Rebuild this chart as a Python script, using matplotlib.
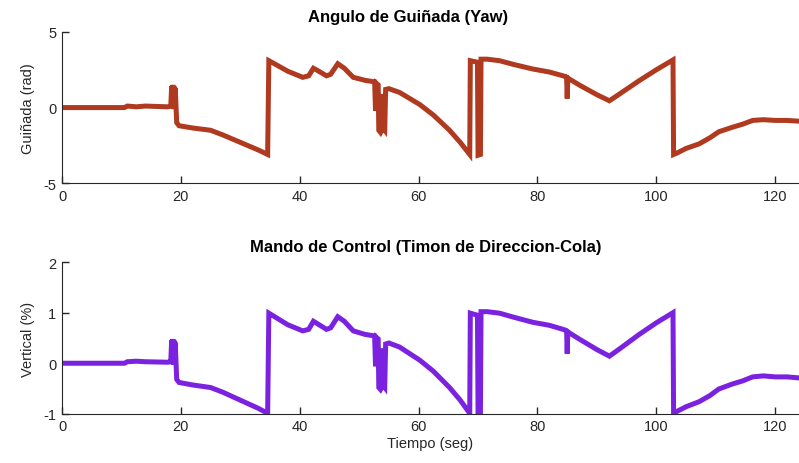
import matplotlib
matplotlib.use('Agg')
import matplotlib.pyplot as plt

# Time base (seg)
t = [0, 5, 10.5, 11.0, 12.5, 14, 17.8, 18.3, 18.45, 18.55, 18.65, 18.75, 18.85, 18.95, 19.05,
     19.3, 19.7, 22, 25, 27, 30, 33, 34.6, 34.8, 35.5, 38, 40.5, 41.5, 42.3, 43, 44.5,
     45.2, 46.4, 47.5, 49, 51, 52.6, 52.75, 52.9, 53.2, 53.3, 53.6, 53.8, 53.95, 54.1, 54.3,
     54.45, 55, 56.8, 58.5, 60.2, 62.5, 65.2, 67.0, 68.6, 68.7, 69.9, 70.0, 70.4, 70.5, 71.5,
     73.6, 76, 79.2, 82, 84.3, 84.9, 85.0, 85.1, 87, 90, 92.1, 94, 97, 100, 102.8, 102.9,
     103.5, 105, 107.2, 109, 110.5, 112.8, 114.5, 116.2, 118, 120, 122, 124]

# Yaw angle (rad)
yaw = [0.0, 0.0, 0.0, 0.1, 0.05, 0.1, 0.05, 0.1, 1.4, 0.0, 1.5, -0.1, 1.4, 0.1, 1.3,
       -1.0, -1.2, -1.35, -1.5, -1.8, -2.3, -2.8, -3.1, 3.1, 2.95, 2.4, 2.0, 2.1, 2.6, 2.45, 2.1,
       2.2, 2.9, 2.6, 2.0, 1.8, 1.7, -0.2, 1.6, 1.5, -1.5, -1.65, -1.5, 0.9, -1.4, -1.5,
       1.2, 1.25, 1.0, 0.6, 0.2, -0.5, -1.5, -2.3, -3.1, 3.1, 3.0, -3.15, -3.1, 3.2, 3.2,
       3.1, 2.85, 2.55, 2.35, 2.1, 2.0, 0.6, 1.95, 1.5, 0.85, 0.45, 0.95, 1.75, 2.5, 3.15, -3.1,
       -3.0, -2.7, -2.4, -2.0, -1.6, -1.3, -1.1, -0.85, -0.8, -0.85, -0.85, -0.9]

# Rudder command (%)
rudder = [0.0, 0.0, 0.0, 0.03, 0.04, 0.03, 0.02, 0.03, 0.45, 0.0, 0.48, -0.03, 0.45, 0.03, 0.41,
          -0.32, -0.38, -0.43, -0.48, -0.57, -0.73, -0.89, -0.99, 0.99, 0.94, 0.76, 0.64, 0.67, 0.83, 0.78, 0.67,
          0.70, 0.92, 0.83, 0.64, 0.57, 0.54, -0.06, 0.51, 0.48, -0.48, -0.52, -0.48, 0.29, -0.45, -0.48,
          0.38, 0.40, 0.32, 0.19, 0.06, -0.16, -0.48, -0.73, -0.99, 0.99, 0.95, -1.0, -0.99, 1.02, 1.02,
          0.99, 0.91, 0.81, 0.75, 0.67, 0.64, 0.19, 0.62, 0.48, 0.27, 0.14, 0.30, 0.56, 0.80, 1.0, -0.99,
          -0.95, -0.86, -0.76, -0.64, -0.51, -0.41, -0.35, -0.27, -0.25, -0.27, -0.27, -0.29]

plt.rcParams['font.family'] = ['Liberation Sans', 'DejaVu Sans']
plt.rcParams['axes.unicode_minus'] = False

fig = plt.figure(figsize=(7.99, 4.64), dpi=100)
ax1 = fig.add_axes([0.0776, 0.603, 0.9224, 0.326])
ax2 = fig.add_axes([0.0776, 0.106, 0.9224, 0.327])

ax1.plot(t, yaw, color='#b03a20', linewidth=3.6, solid_joinstyle='miter')
ax2.plot(t, rudder, color='#7b22e0', linewidth=3.6, solid_joinstyle='miter')

ax1.set_ylim(-5, 5)
ax1.set_yticks([-5, 0, 5])
ax2.set_ylim(-1, 2)
ax2.set_yticks([-1, 0, 1, 2])

for ax in (ax1, ax2):
    ax.set_xlim(0, 124)
    ax.set_xticks([0, 20, 40, 60, 80, 100, 120])
    ax.spines['top'].set_visible(False)
    ax.spines['right'].set_visible(False)
    ax.spines['left'].set_color('#262626')
    ax.spines['bottom'].set_color('#262626')
    ax.tick_params(direction='in', length=5, width=1, colors='#262626',
                   labelsize=10.5, pad=4)

ax1.set_title('Angulo de Guiñada (Yaw)', fontsize=12, fontweight='bold', x=0.47, pad=8)
ax2.set_title('Mando de Control (Timon de Direccion-Cola)', fontsize=12, fontweight='bold',
              x=0.493, pad=8)
ax1.set_ylabel('Guiñada (rad)', fontsize=10.5, color='#262626', labelpad=6)
ax2.set_ylabel('Vertical (%)', fontsize=10.5, color='#262626', labelpad=6)
ax2.set_xlabel('Tiempo (seg)', fontsize=10.5, color='#262626', labelpad=2)

plt.savefig('out.png', dpi=100)
